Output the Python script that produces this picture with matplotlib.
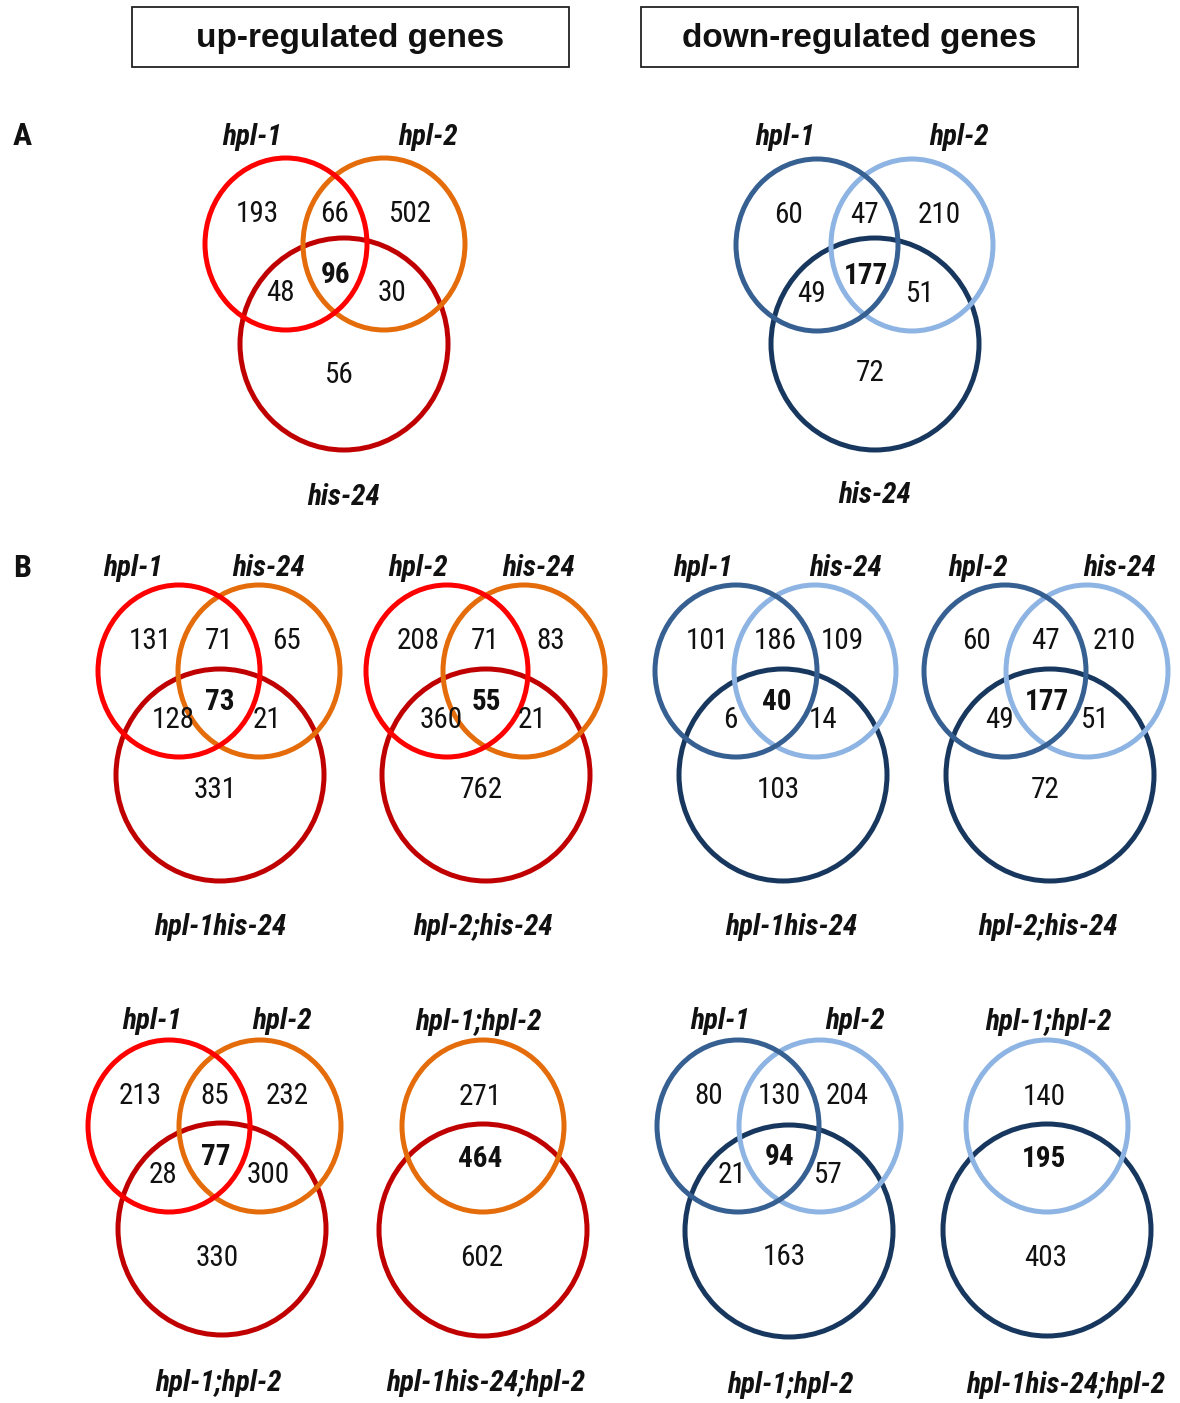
import matplotlib.pyplot as plt
from matplotlib.patches import Ellipse, Rectangle

# region counts for three-set diagrams, in the order:
# left only, left+right, right only, left+bottom, all three, right+bottom, bottom only
# two-set diagrams: top only, both, bottom only
up_a_sets = ["hpl-1", "hpl-2", "his-24"]
up_a_counts = [193, 66, 502, 48, 96, 30, 56]

down_a_sets = ["hpl-1", "hpl-2", "his-24"]
down_a_counts = [60, 47, 210, 49, 177, 51, 72]

up_b1_sets = ["hpl-1", "his-24", "hpl-1his-24"]
up_b1_counts = [131, 71, 65, 128, 73, 21, 331]

up_b2_sets = ["hpl-2", "his-24", "hpl-2;his-24"]
up_b2_counts = [208, 71, 83, 360, 55, 21, 762]

down_b1_sets = ["hpl-1", "his-24", "hpl-1his-24"]
down_b1_counts = [101, 186, 109, 6, 40, 14, 103]

down_b2_sets = ["hpl-2", "his-24", "hpl-2;his-24"]
down_b2_counts = [60, 47, 210, 49, 177, 51, 72]

up_b3_sets = ["hpl-1", "hpl-2", "hpl-1;hpl-2"]
up_b3_counts = [213, 85, 232, 28, 77, 300, 330]

down_b3_sets = ["hpl-1", "hpl-2", "hpl-1;hpl-2"]
down_b3_counts = [80, 130, 204, 21, 94, 57, 163]

up_b4_sets = ["hpl-1;hpl-2", "hpl-1his-24;hpl-2"]
up_b4_counts = [271, 464, 602]

down_b4_sets = ["hpl-1;hpl-2", "hpl-1his-24;hpl-2"]
down_b4_counts = [140, 195, 403]

up_colors = ["#FF0000", "#E46C0A", "#C00000"]
down_colors = ["#376092", "#8DB4E2", "#17375E"]

NARROW = ["Roboto Condensed", "DejaVu Sans"]
LW = 3.6
SMALL = (81, 86)
BIG = (104, 106)


def circle(ax, x, y, r, color, z):
    ax.add_patch(Ellipse((x, y), 2 * r[0], 2 * r[1], fill=False,
                         edgecolor=color, linewidth=LW, zorder=z))


def number(ax, x, y, value, bold=False):
    ax.text(x, y, str(value), ha="center", va="center", fontsize=21,
            family=NARROW, fontweight="bold" if bold else "normal",
            color="#111111", zorder=5)


def name(ax, x, y, text):
    ax.text(x, y, text, ha="center", va="center", fontsize=21,
            family=NARROW, fontweight="bold", fontstyle="italic",
            color="#111111", zorder=5)


def venn3(ax, sets, counts, colors, tl, dx, bot, names, low):
    x0, y0 = tl
    xr = x0 + dx
    xb, yb = x0 + bot[0], y0 + bot[1]
    circle(ax, xb, yb, BIG, colors[2], 2)
    circle(ax, xr, y0, SMALL, colors[1], 3)
    circle(ax, x0, y0, SMALL, colors[0], 4)
    mid = (x0 + xr) / 2
    spots = [(x0 - 29, y0 - 30), (mid, y0 - 30), (xr + 27, y0 - 30),
             (x0 - 6, y0 + 49), (mid + 1, y0 + 31), (xr + 8, y0 + 49),
             (xb - 5, y0 + low)]
    for i, ((px, py), c) in enumerate(zip(spots, counts)):
        number(ax, px, py, c, bold=(i == 4))
    for (px, py), s in zip(names, sets):
        name(ax, px, py, s)


def venn2(ax, sets, counts, colors, top, drop, names):
    x0, y0 = top
    circle(ax, x0, y0 + drop, BIG, colors[2], 2)
    circle(ax, x0, y0, SMALL, colors[1], 3)
    spots = [(x0 - 3, y0 - 29), (x0 - 3, y0 + 33), (x0 - 1, y0 + 132)]
    for i, ((px, py), c) in enumerate(zip(spots, counts)):
        number(ax, px, py, c, bold=(i == 1))
    for (px, py), s in zip(names, sets):
        name(ax, px, py, s)


fig = plt.figure(figsize=(11.8, 14.03), dpi=100)
ax = fig.add_axes([0, 0, 1, 1])
ax.set_xlim(0, 1180)
ax.set_ylim(1403, 0)
ax.axis("off")

# header boxes
for x, label in [(132, "up-regulated genes"), (641, "down-regulated genes")]:
    ax.add_patch(Rectangle((x, 7), 437, 60, fill=False, edgecolor="#222222",
                           linewidth=1.3))
    ax.text(x + 218, 38, label, ha="center", va="center", fontsize=24,
            family="Liberation Sans", fontweight="bold", color="#111111")

ax.text(22, 136, "A", ha="center", va="center", fontsize=23,
        family=NARROW, fontweight="bold", color="#111111")
ax.text(22, 568, "B", ha="center", va="center", fontsize=23,
        family=NARROW, fontweight="bold", color="#111111")

# panel A
venn3(ax, up_a_sets, up_a_counts, up_colors, (286, 244), 98, (58, 100),
      [(252, 137), (428, 137), (343, 497)], 131)
venn3(ax, down_a_sets, down_a_counts, down_colors, (817, 245), 95, (58, 99),
      [(785, 137), (959, 137), (874, 495)], 128)

# panel B, first row
venn3(ax, up_b1_sets, up_b1_counts, up_colors, (179, 671), 80, (41, 104),
      [(133, 568), (268, 568), (220, 927)], 119)
venn3(ax, up_b2_sets, up_b2_counts, up_colors, (447, 671), 77, (39, 104),
      [(418, 568), (538, 568), (483, 927)], 119)
venn3(ax, down_b1_sets, down_b1_counts, down_colors, (736, 671), 79, (47, 104),
      [(703, 568), (845, 568), (791, 927)], 119)
venn3(ax, down_b2_sets, down_b2_counts, down_colors, (1005, 671), 82, (45, 104),
      [(978, 568), (1119, 568), (1048, 927)], 119)

# panel B, second row
venn3(ax, up_b3_sets, up_b3_counts, up_colors, (169, 1126), 91, (53, 103),
      [(152, 1021), (282, 1021), (218, 1383)], 132)
venn3(ax, down_b3_sets, down_b3_counts, down_colors, (738, 1126), 82, (51, 105),
      [(720, 1021), (855, 1021), (790, 1385)], 131)
venn2(ax, up_b4_sets, up_b4_counts, up_colors, (483, 1126), 104,
      [(478, 1022), (486, 1383)])
venn2(ax, down_b4_sets, down_b4_counts, down_colors, (1047, 1126), 104,
      [(1048, 1022), (1066, 1385)])

fig.savefig("out.png", dpi=100)
